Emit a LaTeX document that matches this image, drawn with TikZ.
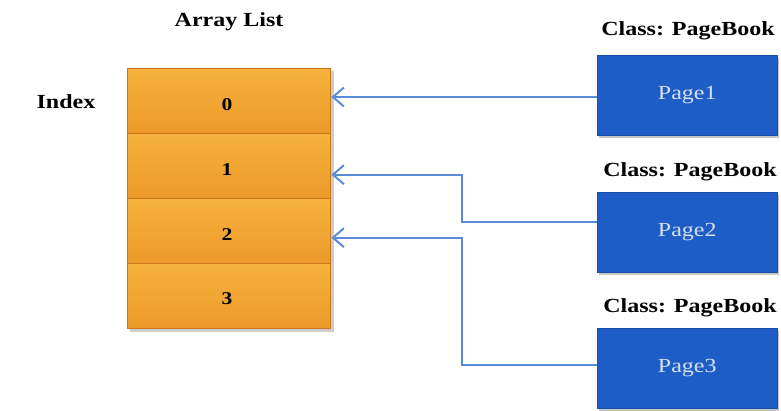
\documentclass[tikz,border=0pt]{standalone}
\usepackage{fontspec}
\setmainfont{Liberation Serif}
\newfontfamily\lblfont[FakeStretch=1.2]{Liberation Serif}
\usetikzlibrary{arrows.meta,shadows,calc}
\definecolor{orangeA}{HTML}{F6B13C}
\definecolor{orangeB}{HTML}{EC9A2A}
\definecolor{orangeLine}{HTML}{C9781C}
\definecolor{pageBlue}{HTML}{1D5DC5}
\definecolor{pageText}{HTML}{D6E0F2}
\definecolor{arrowBlue}{HTML}{5A8AD8}
\tikzset{
  rowbox/.style={draw=orangeLine, line width=1.4pt, top color=orangeA, bottom color=orangeB,
     minimum width=203pt, minimum height=65pt, inner sep=0pt, anchor=north west},
  digit/.style={font=\lblfont\bfseries\fontsize{18}{18}\selectfont, text=black},
  pagebox/.style={fill=pageBlue, draw=pageBlue!85!black, line width=0.6pt,
     minimum width=180pt, minimum height=80pt, inner sep=0pt, anchor=north west,
     drop shadow={shadow xshift=2pt, shadow yshift=-3pt, opacity=0.45},
     text=pageText, font=\lblfont\fontsize{20}{20}\selectfont},
  heading/.style={font=\lblfont\bfseries\fontsize{20}{20}\selectfont, text=black},
  arr/.style={draw=arrowBlue, line width=2pt, -{Straight Barb[length=11pt,width=19pt,line width=2pt]}}
}
\begin{document}
\begin{tikzpicture}[x=1pt,y=-1pt]
\useasboundingbox (0,0) rectangle (781,411);
% shadow behind array
\fill[black!40, opacity=0.5] (130,71) rectangle (334,332);
\node[rowbox] (r0) at (127,68) {};
\node[rowbox] (r1) at (127,133) {};
\node[rowbox] (r2) at (127,198) {};
\node[rowbox] (r3) at (127,263) {};
\node[digit] (d0) at (227,105) {0};
\node[digit] (d1) at (227,170) {1};
\node[digit] (d2) at (227,235) {2};
\node[digit] (d3) at (227,299) {3};
\node[heading] (al) at (229,22) {Array List};
\node[heading] (ix) at (66,102) {Index};

\node[pagebox] (p1) at (597,55) {Page1};
\node[pagebox] (p2) at (597,192) {Page2};
\node[pagebox] (p3) at (597,328) {Page3};
\node[heading] (c1) at (688,31) {Class: PageBook};
\node[heading] (c2) at (690,172) {Class: PageBook};
\node[heading] (c3) at (690,308) {Class: PageBook};

\coordinate (t0) at (r0.east |- 0,97);
\draw[arr] (p1.west |- t0) -- (t0);
\coordinate (t1) at ([yshift=-8.5pt]r1.east);
\coordinate (k1) at (462,0);
\draw[arr] ([yshift=10pt]p2.west) -| (k1 |- t1) -- (t1);
\coordinate (t2) at ([yshift=-6.5pt]r2.east);
\draw[arr] ([yshift=3pt]p3.west) -| (k1 |- t2) -- (t2);
\end{tikzpicture}
\end{document}
